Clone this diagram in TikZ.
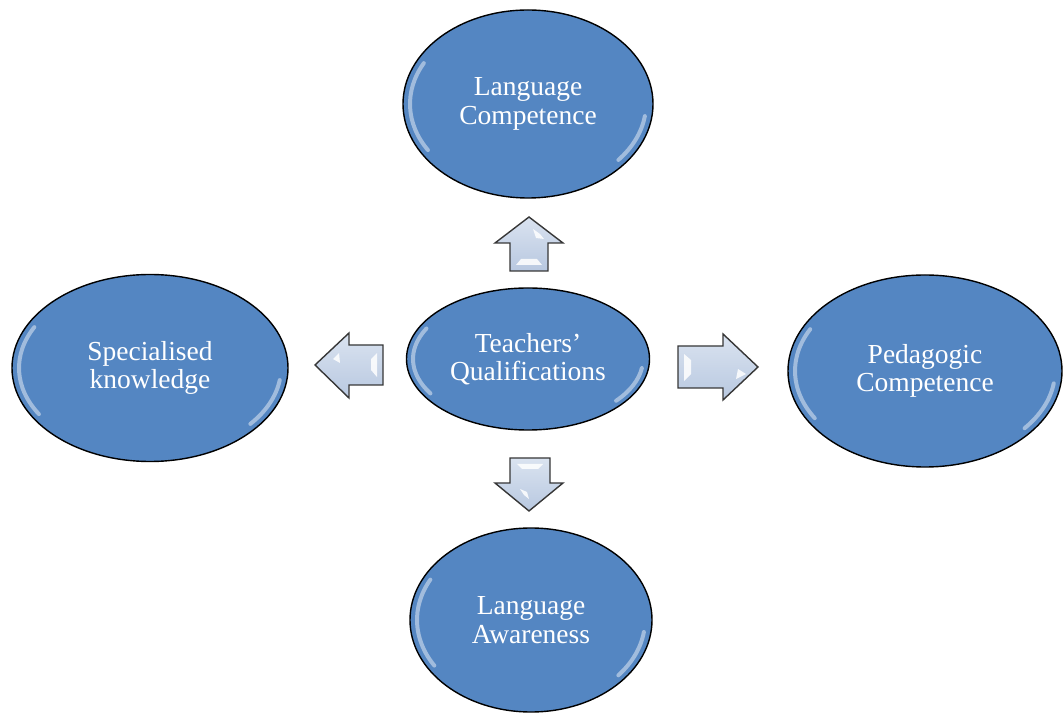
\documentclass[tikz,border=0pt]{standalone}
\usepackage{fontspec}
\setmainfont{Liberation Serif}
\usetikzlibrary{shapes.geometric,calc}
\definecolor{ellfill}{RGB}{84,134,194}
\definecolor{elldark}{RGB}{62,104,160}
\definecolor{arrtop}{RGB}{218,227,240}
\definecolor{arrbot}{RGB}{184,200,224}
\definecolor{arrline}{RGB}{55,55,55}
\pgfdeclareradialshading{bubbleshade}{\pgfpoint{0bp}{0bp}}{color(0bp)=(ellfill); color(43bp)=(ellfill); color(49bp)=(elldark); color(50bp)=(elldark)}
\tikzset{
  bubble/.style={ellipse, draw=black, line width=1.4pt, shading=bubbleshade,
    text=white, align=center, inner sep=0pt,
    font=\fontsize{27.5}{28.5}\selectfont},
  blockarrow/.style={draw=arrline, line width=1.4pt, top color=arrtop, bottom color=arrbot, line join=miter},
  gloss/.style={white, line width=4pt, opacity=0.45, line cap=round},
  shine/.style={fill=white, opacity=0.85, draw=none},
}
\newcommand{\glossy}[3]{%
  \draw[gloss] ($(#1.center)+(212:#2 and #3)$) arc[start angle=212, end angle=152, x radius=#2, y radius=#3];
  \draw[gloss] ($(#1.center)+(-8:#2 and #3)$) arc[start angle=-8, end angle=-40, x radius=#2, y radius=#3];
}
\begin{document}
\begin{tikzpicture}[x=1pt,y=1pt]
\useasboundingbox (0,0) rectangle (1063,715);
% ellipses
\node[bubble, minimum width=250pt, minimum height=188pt] (lc) at (528,611) {Language\\Competence};
\node[bubble, minimum width=243pt, minimum height=142pt] (tq) at (528,356) {Teachers’\\Qualifications};
\node[bubble, minimum width=276pt, minimum height=187pt] (sk) at (150,347) {Specialised\\knowledge};
\node[bubble, minimum width=274pt, minimum height=192pt] (pc) at (925,344) {Pedagogic\\Competence};
\node[bubble, minimum width=242pt, minimum height=184pt] (la) at (531,95) {Language\\Awareness};
\glossy{lc}{118}{87}
\glossy{tq}{115}{65}
\glossy{sk}{131}{87}
\glossy{pc}{130}{89}
\glossy{la}{114}{86}
% up arrow
\draw[blockarrow] (510,444) -- (510,472) -- (495,472) -- (529,498) -- (563,472) -- (548,472) -- (548,444) -- cycle;
\fill[shine] (533,486) -- (540,481) -- (544,476) -- (536,477) -- cycle;
\fill[shine] (516,450) -- (542,450) -- (537,456) -- (521,456) -- cycle;
% down arrow
\draw[blockarrow] (510,257) -- (510,232) -- (495,232) -- (529,204) -- (563,232) -- (550,232) -- (550,257) -- cycle;
\fill[shine] (517,251) -- (543,251) -- (538,246) -- (522,246) -- cycle;
\fill[shine] (520,226) -- (524,220) -- (529,216) -- (527,223) -- cycle;
% left arrow
\draw[blockarrow] (383,370) -- (349,370) -- (349,382) -- (315,350) -- (349,317) -- (349,330) -- (383,330) -- cycle;
\fill[shine] (333,356) -- (339,362) -- (340,352) -- cycle;
\fill[shine] (377,362) -- (377,338) -- (371,345) -- (371,356) -- cycle;
% right arrow
\draw[blockarrow] (678,369) -- (723,369) -- (723,381) -- (758,348) -- (723,315) -- (723,327) -- (678,327) -- cycle;
\fill[shine] (684,361) -- (684,334) -- (691,341) -- (691,355) -- cycle;
\fill[shine] (738,346) -- (746,341) -- (736,336) -- cycle;
\end{tikzpicture}
\end{document}
